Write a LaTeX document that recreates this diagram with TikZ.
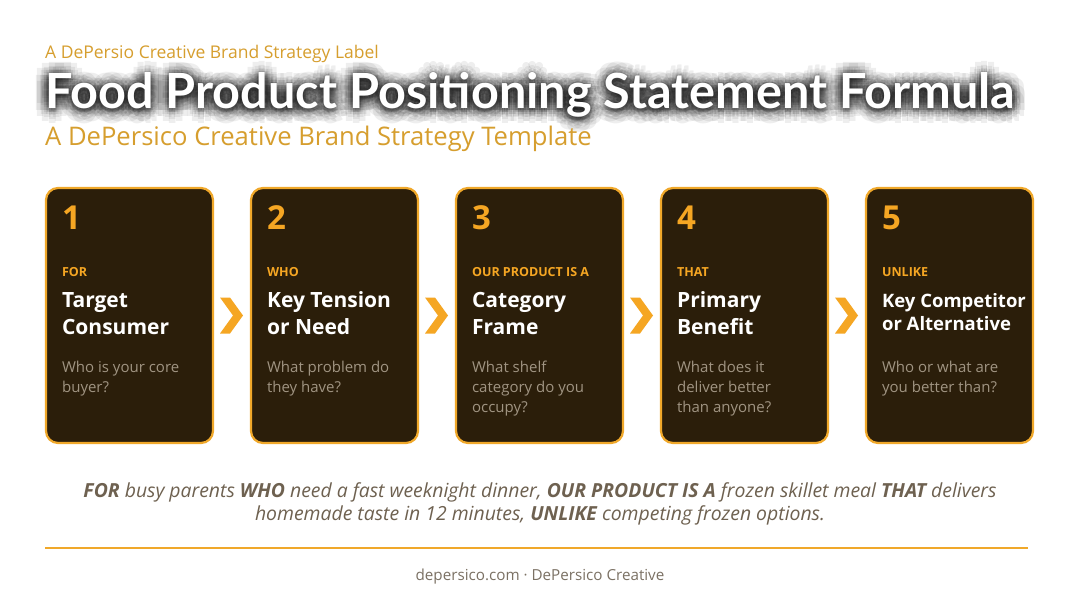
\documentclass[tikz,border=0pt]{standalone}
\usepackage{fontspec}
\setmainfont{Open Sans}
\newfontfamily\titlefont{Lato}
\usetikzlibrary{positioning,calc}

\definecolor{gold}{HTML}{F5A623}
\definecolor{darkgold}{HTML}{D69E2E}
\definecolor{cardfill}{HTML}{2B1E0A}
\definecolor{cardline}{HTML}{F0A82A}
\definecolor{askgray}{HTML}{A09482}
\definecolor{bodybrown}{HTML}{6E6150}
\definecolor{footgray}{HTML}{7B7164}

\tikzset{
  card/.style={draw=cardline, line width=2.2pt, fill=cardfill, rounded corners=12pt,
    minimum width=167pt, minimum height=255pt, inner sep=0pt},
  num/.style={anchor=base west, inner sep=0pt, text=gold, font=\fontsize{33}{33}\selectfont\bfseries},
  kw/.style={anchor=base west, inner sep=0pt, text=gold, font=\fontsize{12.5}{13}\selectfont\bfseries},
  head/.style={anchor=north west, inner sep=0pt, text=white, align=left},
  ask/.style={anchor=north west, inner sep=0pt, text=askgray, align=left,
    font=\fontsize{15}{20}\selectfont},
  chev/.style={fill=gold},
  titletext/.style={anchor=base west, inner sep=0pt, font=\titlefont\fontsize{48.6}{49}\selectfont\bfseries}
}

\newcommand{\maintitle}{Food Product Positioning Statement Formula}

\begin{document}
\begin{tikzpicture}[x=1pt,y=-1pt]
  \useasboundingbox[fill=white] (0,0) rectangle (1080,603);
  %-- header
  \node[anchor=base west, inner sep=0pt, text=darkgold, font=\fontsize{17.5}{18}\selectfont]
    (label) at (45,58) {A DePersio Creative Brand Strategy Label};
  \coordinate (glow) at (45,110);
  \foreach \a in {0,30,...,330}
    \foreach \r in {2.5,5.5,9,13}
      \node[titletext, text=black, opacity=0.065] at ($(glow)+(\a:\r)$) {\maintitle};
  \node[titletext, text=white] (title) at (45,108) {\maintitle};
  \node[anchor=base west, inner sep=0pt, text=darkgold, font=\fontsize{25.6}{26}\selectfont]
    (subtitle) at (45,145) {A DePersico Creative Brand Strategy Template};
  %-- cards
  \foreach \i/\kwd/\hs/\hl/\hd/\q in {
      1/FOR/21/27/{Target\\Consumer}/{Who is your core\\buyer?},
      2/WHO/21/27/{Key Tension\\or Need}/{What problem do\\they have?},
      3/OUR PRODUCT IS A/21/27/{Category\\Frame}/{What shelf\\category do you\\occupy?},
      4/THAT/21/27/{Primary\\Benefit}/{What does it\\deliver better\\than anyone?},
      5/UNLIKE/18.5/23/{Key Competitor\\or Alternative}/{Who or what are\\you better than?}} {
    \node[card] (c\i) at ({129.5+205*(\i-1)},315.5) {};
    \node[num] (n\i) at ($(c\i.north west)+(17,43)$) {\i};
    \node[kw] (k\i) at ($(c\i.north west)+(17,90)$) {\kwd};
    \node[head, font=\fontsize{\hs}{\hl}\selectfont\bfseries] (h\i)
      at ($(c\i.north west)+(17,{120-0.7*\hl})$) {\strut\hd};
    \node[ask] (q\i) at ($(c\i.north west)+(17,171)$) {\strut\q};
  }
  %-- chevrons
  \foreach \i/\j in {1/2,2/3,3/4,4/5} {
    \coordinate (m\i) at ($(c\i.east)!0.5!(c\j.west)$);
    \fill[chev] ($(m\i)+(-12,-18)$) -- ($(m\i)+(-2,-18)$) -- ($(m\i)+(11,0)$)
      -- ($(m\i)+(-2,18)$) -- ($(m\i)+(-12,18)$) -- ($(m\i)+(1,0)$) -- cycle;
  }
  %-- statement
  \node[anchor=north, inner sep=0pt, align=center, text=bodybrown,
    font=\fontsize{19.4}{23.5}\selectfont\itshape] (stmt) at (540,482)
    {\textbf{FOR} busy parents \textbf{WHO} need a fast weeknight dinner, \textbf{OUR PRODUCT IS A} frozen skillet meal \textbf{THAT} delivers\\
     homemade taste in 12 minutes, \textbf{UNLIKE} competing frozen options.};
  \coordinate (ruleL) at (45,548);
  \coordinate (ruleR) at (1028,548);
  \draw[cardline, line width=1.3pt] (ruleL) -- (ruleR);
  \node[text=footgray, inner sep=0pt, font=\fontsize{15.2}{16}\selectfont] (foot) at (540,577)
    {depersico.com · DePersico Creative};
\end{tikzpicture}
\end{document}
